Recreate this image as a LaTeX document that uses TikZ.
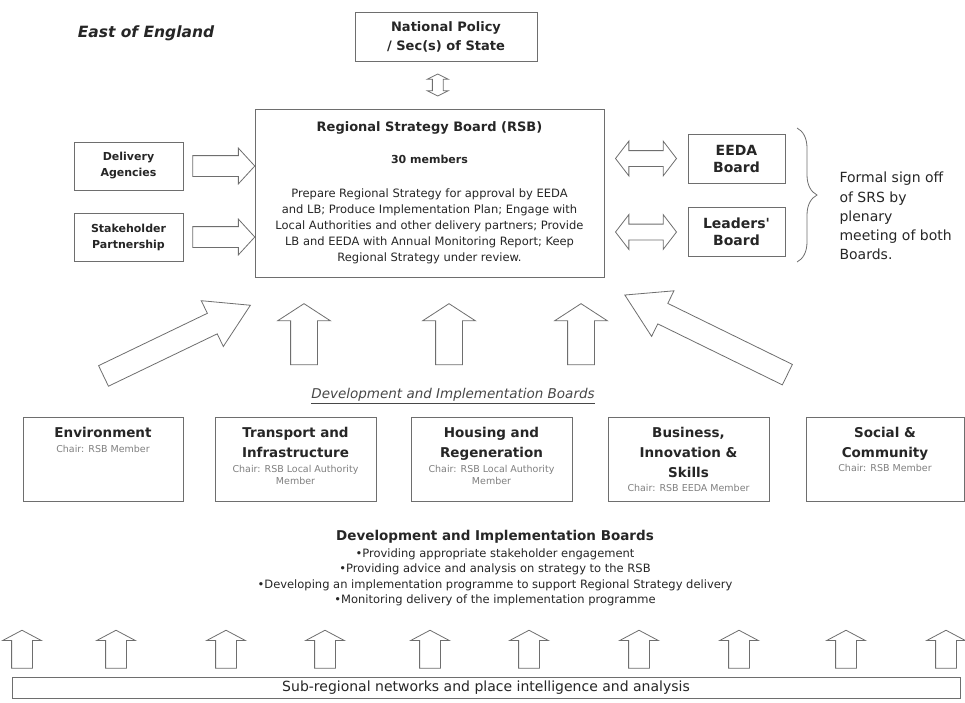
\documentclass[tikz,border=0pt]{standalone}
\usepackage{fontspec}
\setmainfont{DejaVu Sans}[Ligatures=TeXOff]
\usetikzlibrary{shapes.arrows,decorations.pathreplacing,calc}

\definecolor{linegray}{HTML}{6E6E6E}
\definecolor{inkgray}{HTML}{262626}
\definecolor{chairgray}{HTML}{808080}

\begin{document}
\begin{tikzpicture}[x=1pt, y=-1pt,
  box/.style={draw=linegray, line width=0.9pt, fill=white, inner sep=0pt, align=center, text=inkgray},
  boardbox/.style={box, minimum width=161pt, minimum height=84pt},
  boardtext/.style={anchor=north, inner sep=0pt, align=center, text=inkgray, font=\bfseries\fontsize{13.5}{20}\selectfont},
  chairnote/.style={inner sep=0pt, align=center, text=chairgray, font=\fontsize{9.5}{12}\selectfont},
  blockarrow/.style={single arrow, draw=linegray, line width=0.8pt, fill=white, inner xsep=0pt},
  bigup/.style={blockarrow, rotate=90, minimum height=61pt, inner ysep=13pt, single arrow head extend=13pt, single arrow tip angle=114},
  smallup/.style={blockarrow, rotate=90, minimum height=38pt, inner ysep=10pt, single arrow head extend=9pt, single arrow tip angle=124},
  sidearrow/.style={blockarrow, minimum height=62pt, inner ysep=10pt, single arrow head extend=7.5pt, single arrow tip angle=95},
  slantarrow/.style={blockarrow, inner ysep=11pt, single arrow head extend=14pt, single arrow tip angle=62},
  twoway/.style={double arrow, draw=linegray, line width=0.8pt, fill=white, inner xsep=0pt, minimum height=61pt, inner ysep=7.5pt, double arrow head extend=9.5pt, double arrow tip angle=105}]
  \useasboundingbox (0,0) rectangle (965,702);

  % 見出し
  \node[text=inkgray, font=\bfseries\itshape\fontsize{15.5}{18}\selectfont] (region) at (146,33) {East of England};

  % 国の政策
  \node[box, minimum width=182pt, minimum height=49pt, font=\bfseries\fontsize{13}{19}\selectfont] (natpol) at (446,36.5) {National Policy\\/ Sec(s) of State};

  % RSB
  \node[box, minimum width=349pt, minimum height=168pt, font=\fontsize{11.5}{16}\selectfont] (rsb) at (429.5,193)
    {{\bfseries\fontsize{13}{16}\selectfont Regional Strategy Board (RSB)}\\[16pt]
     {\bfseries\fontsize{11}{16}\selectfont 30 members}\\[18pt]
     Prepare Regional Strategy for approval by EEDA\\
     and LB; Produce Implementation Plan; Engage with\\
     Local Authorities and other delivery partners; Provide\\
     LB and EEDA with Annual Monitoring Report; Keep\\
     Regional Strategy under review.};
  \node[twoway, rotate=90, minimum height=22pt, inner ysep=5pt, double arrow head extend=5pt, double arrow tip angle=127] (natarrow) at ($(natpol.south)!0.5!(rsb.north)$) {};

  % 左の箱
  \node[box, minimum width=109pt, minimum height=48pt, font=\bfseries\fontsize{11}{16}\selectfont] (delivery) at (128.5,166) {Delivery\\Agencies};
  \node[box, minimum width=109pt, minimum height=48pt, font=\bfseries\fontsize{11}{16}\selectfont] (stake) at (128.5,237) {Stakeholder\\Partnership};
  \node[sidearrow] (deliveryarrow) at ($(delivery.east)!0.5!(delivery.east -| rsb.west)$) {};
  \node[sidearrow] (stakearrow) at ($(stake.east)!0.5!(stake.east -| rsb.west)$) {};

  % 右の箱
  \node[box, minimum width=97pt, minimum height=49pt, font=\bfseries\fontsize{14}{17}\selectfont] (eeda) at (736.5,158.5) {EEDA\\Board};
  \node[box, minimum width=97pt, minimum height=49pt, font=\bfseries\fontsize{14}{17}\selectfont] (leaders) at (736.5,232) {Leaders'\\Board};
  \node[twoway] (eedaarrow) at ($(eeda.west)!0.5!(eeda.west -| rsb.east)$) {};
  \node[twoway] (leadersarrow) at ($(leaders.west)!0.5!(leaders.west -| rsb.east)$) {};

  % 括弧と注記
  \coordinate (bracetop) at (797,128);
  \coordinate (bracebot) at (797,262);
  \draw[linegray, line width=0.8pt, decorate, decoration={brace, amplitude=20pt}] (bracetop) -- (bracebot);
  \node[anchor=west, align=left, text=inkgray, font=\fontsize{14}{19.2}\selectfont] (signoff) at (836,216)
    {Formal sign off\\of SRS by\\plenary\\meeting of both\\Boards.};

  % 上向きの矢印
  \node[slantarrow, minimum height=163pt, rotate=25.7] (leftslant) at (168.4,344.7) {};
  \node[bigup] (upone) at (304,338.5) {};
  \node[bigup] (uptwo) at (449,338.5) {};
  \node[bigup] (upthree) at (581,338.5) {};
  \node[slantarrow, minimum height=181pt, rotate=153.9] (rightslant) at (714.6,339) {};

  \node[text=inkgray!85, font=\itshape\fontsize{13.5}{16}\selectfont] (dibhead) at (453,396) {\underline{Development and Implementation Boards}};

  % 五つのボード
  \node[boardbox, minimum width=160pt] (env) at (103,459) {};
  \node[boardtext] (envtext) at ([yshift=-10pt]env.north) {Environment};
  \node[chairnote] (envchair) at (103,449) {Chair: RSB Member};
  \node[boardbox] (transport) at (295.5,459) {};
  \node[boardtext] (transporttext) at ([yshift=-10pt]transport.north) {Transport and\\Infrastructure};
  \node[chairnote] (transportchair) at (295.5,475) {Chair: RSB Local Authority\\Member};
  \node[boardbox] (housing) at (491.5,459) {};
  \node[boardtext] (housingtext) at ([yshift=-10pt]housing.north) {Housing and\\Regeneration};
  \node[chairnote] (housingchair) at (491.5,475) {Chair: RSB Local Authority\\Member};
  \node[boardbox] (business) at (688.5,459) {};
  \node[boardtext] (businesstext) at ([yshift=-10pt]business.north) {Business,\\Innovation \&\\Skills};
  \node[chairnote] (businesschair) at (688.5,488) {Chair: RSB EEDA Member};
  \node[boardbox, minimum width=158pt] (social) at (885,459) {};
  \node[boardtext] (socialtext) at ([yshift=-10pt]social.north) {Social \&\\Community};
  \node[chairnote] (socialchair) at (885,468) {Chair: RSB Member};

  % ボードの役割
  \node[align=center, text=inkgray, font=\fontsize{11.5}{15.5}\selectfont] (dibinfo) at (495,568)
    {{\bfseries\fontsize{13.5}{16}\selectfont Development and Implementation Boards}\\[1.5pt]
     •Providing appropriate stakeholder engagement\\
     •Providing advice and analysis on strategy to the RSB\\
     •Developing an implementation programme to support Regional Strategy delivery\\
     •Monitoring delivery of the implementation programme};

  % 下段の矢印
  \node[smallup] (subone) at (22,652) {};
  \node[smallup] (subtwo) at (116,652) {};
  \node[smallup] (subthree) at (226,652) {};
  \node[smallup] (subfour) at (325,652) {};
  \node[smallup] (subfive) at (430,652) {};
  \node[smallup] (subsix) at (529,652) {};
  \node[smallup] (subseven) at (639,652) {};
  \node[smallup] (subeight) at (739,652) {};
  \node[smallup] (subnine) at (846,652) {};
  \node[smallup] (subten) at (946,652) {};

  % 地域ネットワーク
  \node[box, minimum width=948pt, minimum height=21pt, font=\fontsize{14}{16}\selectfont] (subreg) at (486,687.5) {Sub-regional networks and place intelligence and analysis};
\end{tikzpicture}
\end{document}
